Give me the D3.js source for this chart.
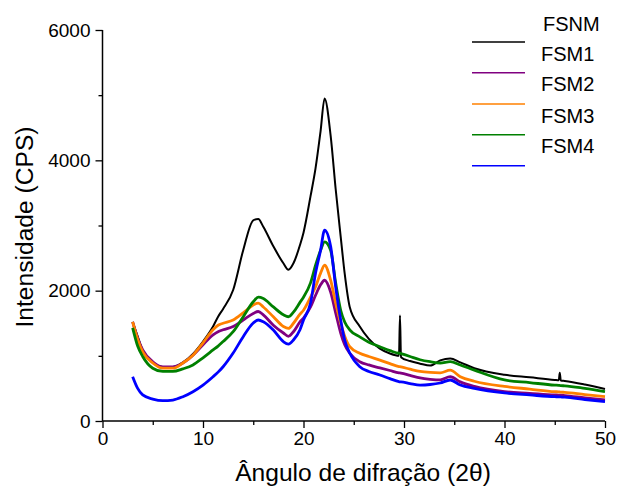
<!DOCTYPE html>
<html>
<head>
<meta charset="utf-8">
<script src="https://cdn.jsdelivr.net/npm/d3@7"></script>
<style>
  body { margin: 0; background: #fff; }
  text { font-family: "Liberation Sans", Arial, sans-serif; fill: #000; }
</style>
</head>
<body>
<div id="chart"></div>
<script>
const width = 620,
  height = 492;

// 2theta positions shared by every pattern
const angles = [3, 3.5, 4, 5, 6, 7, 8, 9, 10, 11, 11.5, 12, 13, 14, 15, 15.5, 16, 17, 18, 18.5, 19, 19.65, 20, 20.7, 21.2, 21.7, 22.1, 22.7, 23.2, 23.7, 24.1, 24.6, 25.6, 26.5, 27.6, 28.6, 29.5, 29.6, 29.7, 30.6, 31.6, 32.6, 33.6, 34.6, 35.6, 37, 40, 42.5, 45, 45.4, 45.5, 45.6, 46, 48, 50];

const fsnm = [1520, 1300, 1080, 900, 830, 830, 900, 1030, 1220, 1450, 1600, 1720, 2010, 2620, 3080, 3100, 2980, 2680, 2420, 2320, 2420, 2700, 2890, 3450, 3880, 4450, 4950, 4380, 3560, 2830, 2260, 1750, 1450, 1260, 1110, 1035, 1000, 1620, 980, 920, 880, 850, 930, 960, 900, 810, 710, 670, 630, 625, 740, 622, 615, 560, 490];
const fsm1 = [1520, 1270, 1090, 910, 830, 830, 890, 1010, 1170, 1320, 1370, 1400, 1450, 1550, 1650, 1680, 1630, 1470, 1350, 1300, 1370, 1520, 1580, 1750, 1930, 2090, 2160, 1980, 1660, 1350, 1170, 1040, 910, 860, 815, 775, 740, 738, 735, 700, 660, 640, 630, 680, 600, 530, 450, 425, 400, 398, 397, 396, 390, 355, 322];
const fsm2 = [1520, 1250, 1060, 890, 810, 810, 890, 1010, 1200, 1400, 1470, 1500, 1550, 1660, 1780, 1810, 1750, 1600, 1450, 1420, 1500, 1640, 1700, 1900, 2060, 2270, 2390, 2160, 1810, 1500, 1300, 1140, 1040, 990, 935, 880, 835, 833, 830, 795, 760, 745, 740, 780, 680, 610, 530, 490, 450, 447, 445, 443, 440, 405, 375];
const fsm3 = [1430, 1150, 990, 810, 760, 760, 800, 860, 970, 1090, 1150, 1220, 1370, 1600, 1830, 1900, 1880, 1750, 1630, 1600, 1670, 1820, 1900, 2120, 2390, 2620, 2750, 2620, 2120, 1700, 1520, 1400, 1290, 1210, 1140, 1080, 1040, 1040, 1035, 990, 940, 910, 890, 910, 860, 780, 630, 590, 550, 547, 545, 543, 540, 500, 450];
const fsm4 = [680, 500, 400, 337, 312, 322, 373, 450, 552, 680, 750, 833, 1043, 1294, 1504, 1550, 1524, 1396, 1217, 1180, 1243, 1400, 1550, 1810, 2270, 2620, 2930, 2680, 2060, 1550, 1243, 1043, 833, 760, 706, 650, 603, 600, 600, 575, 552, 560, 583, 629, 552, 500, 430, 400, 373, 371, 370, 369, 365, 330, 296];

const seriesNames = ["FSNM", "FSM1", "FSM2", "FSM3", "FSM4"];
const seriesColors = ["#000000", "#800080", "#ff8000", "#008000", "#0000ff"];
const seriesValues = [fsnm, fsm1, fsm2, fsm3, fsm4];

const xTicks = [0, 10, 20, 30, 40, 50];
const xMinor = [5, 15, 25, 35, 45];
const yTicks = [0, 2000, 4000, 6000];
const yMinor = [1000, 3000, 5000];

const svg = d3.select("#chart")
  .append("svg")
  .attr("width", width)
  .attr("height", height);

const x = d3.scaleLinear().domain([0, 50]).range([102.5, 605]);
const y = d3.scaleLinear().domain([0, 6000]).range([421, 30]);

// data lines, black first so the colours sit on top
const line = d3.line()
  .x(d => x(d[0]))
  .y(d => y(d[1]))
  .curve(d3.curveMonotoneX);

seriesValues.forEach((vals, i) => {
  svg.append("path")
    .datum(angles.map((a, j) => [a, vals[j]]))
    .attr("d", line)
    .attr("fill", "none")
    .attr("stroke", seriesColors[i])
    .attr("stroke-width", i === 0 ? 2 : 2.8)
    .attr("stroke-linejoin", "round");
});

// axes (left + bottom only, major + minor ticks)
const xAxis = svg.append("g")
  .attr("transform", `translate(0,${y(0)})`)
  .call(d3.axisBottom(x).tickValues(xTicks).tickFormat(d3.format("d")).tickSize(7).tickPadding(4));
svg.append("g")
  .attr("transform", `translate(0,${y(0)})`)
  .call(d3.axisBottom(x).tickValues(xMinor).tickFormat("").tickSize(4))
  .call(g => g.select(".domain").remove());

const yAxis = svg.append("g")
  .attr("transform", `translate(${x(0)},0)`)
  .call(d3.axisLeft(y).tickValues(yTicks).tickFormat(d3.format("d")).tickSize(7).tickPadding(5));
svg.append("g")
  .attr("transform", `translate(${x(0)},0)`)
  .call(d3.axisLeft(y).tickValues(yMinor).tickFormat("").tickSize(4))
  .call(g => g.select(".domain").remove());

// plain domain lines without end caps
xAxis.select(".domain").attr("d", `M${x(0)},0H${x(50)}`);
yAxis.select(".domain").attr("d", `M0,${y(0)}V${y(6000)}`);
svg.selectAll(".domain").attr("stroke", "#000").attr("stroke-width", 1.5);
svg.selectAll(".tick line").attr("stroke", "#000").attr("stroke-width", 1.3);
svg.selectAll(".tick text")
  .style("font-family", "'Liberation Sans', Arial, sans-serif")
  .style("font-size", "19px");

// axis titles
svg.append("text")
  .attr("x", 363)
  .attr("y", 481)
  .attr("text-anchor", "middle")
  .style("font-size", "24.6px")
  .text("Ângulo de difração (2θ)");

svg.append("text")
  .attr("transform", "translate(33,227) rotate(-90)")
  .attr("text-anchor", "middle")
  .style("font-size", "24.6px")
  .text("Intensidade (CPS)");

// legend (labels sit above their line samples)
const legendLineY = [42, 72.7, 104, 134.7, 165.7];
const legendTextY = [30.5, 60.5, 91, 123, 153];
const legend = svg.append("g");
seriesNames.forEach((name, i) => {
  legend.append("line")
    .attr("x1", 472).attr("x2", 525)
    .attr("y1", legendLineY[i]).attr("y2", legendLineY[i])
    .attr("stroke", seriesColors[i])
    .attr("stroke-width", 1.5);
  legend.append("text")
    .attr("x", i === 0 ? 543 : 541)
    .attr("y", legendTextY[i])
    .style("font-size", "20px")
    .text(name);
});
</script>
</body>
</html>
